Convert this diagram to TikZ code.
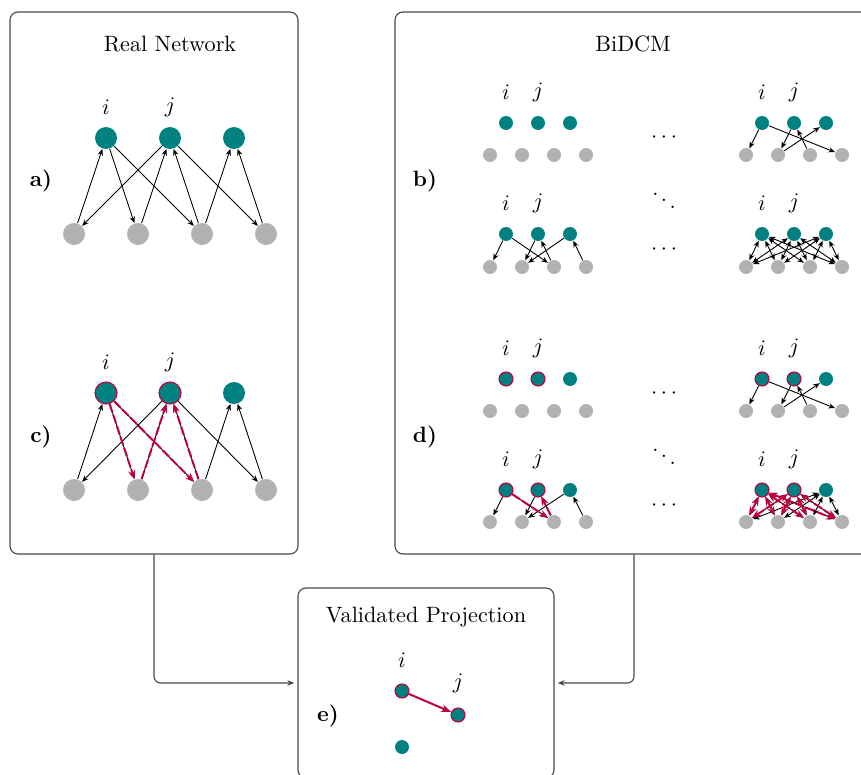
\documentclass[tikz,border=0pt]{standalone}
\usetikzlibrary{arrows.meta,fit}

\definecolor{nodeteal}{RGB}{0,128,128}
\definecolor{nodegray}{RGB}{178,178,178}
\definecolor{hlred}{RGB}{191,0,64}
\definecolor{framegray}{RGB}{70,70,70}

% one bipartite layer pair: #1 prefix, #2 x of node i, #3 y of top row,
% #4 y of bottom row, #5 spacing, #6 size (big/small), #7 i,j style (top/hl)
\newcommand\bipgraph[7]{%
  \node[#6#7]  (#1t1) at (#2,#3) {};
  \node[#6#7]  (#1t2) at ({#2+#5},#3) {};
  \node[#6top] (#1t3) at ({#2+2*#5},#3) {};
  \node[#6bot] (#1b1) at ({#2-#5/2},#4) {};
  \node[#6bot] (#1b2) at ({#2+#5/2},#4) {};
  \node[#6bot] (#1b3) at ({#2+3*#5/2},#4) {};
  \node[#6bot] (#1b4) at ({#2+5*#5/2},#4) {};
  \node[lbl] (#1li) at (#2,{#3-31}) {$i$};
  \node[lbl] (#1lj) at ({#2+#5},{#3-31}) {$j$};
}

\tikzset{
  x=0.4505pt, y=-0.4505pt,
  panel/.style={draw=framegray, line width=0.5pt, rounded corners=3.6pt, inner sep=0pt},
  tag/.style={font=\bfseries},
  lbl/.style={inner sep=0pt},
  bigtop/.style={circle, fill=nodeteal, inner sep=0pt, minimum size=9.9pt},
  bighl/.style={bigtop, draw=hlred, line width=0.5pt},
  bigbot/.style={circle, fill=nodegray, inner sep=0pt, minimum size=9.9pt},
  smalltop/.style={circle, fill=nodeteal, inner sep=0pt, minimum size=6.3pt},
  smallhl/.style={smalltop, draw=hlred, line width=0.5pt},
  smallbot/.style={circle, fill=nodegray, inner sep=0pt, minimum size=6.3pt},
  edge/.style={draw, line width=0.4pt, -{Stealth[length=3pt,width=2.4pt]}},
  twoway/.style={draw, line width=0.4pt, {Stealth[length=3pt,width=2.4pt]}-{Stealth[length=3pt,width=2.4pt]}},
  redover/.style={draw=hlred, line width=0.9pt, dash pattern=on 4pt off 1.2pt,
    -{Stealth[length=4pt,width=3.2pt]}},
  redtwoway/.style={draw=hlred, line width=0.9pt, dash pattern=on 4pt off 1.2pt,
    {Stealth[length=4pt,width=3.2pt]}-{Stealth[length=4pt,width=3.2pt]}},
  validated/.style={draw=hlred, line width=0.9pt, -{Stealth[length=4.5pt,width=3.5pt]}},
  conn/.style={draw=framegray, line width=0.5pt, rounded corners=3pt,
    -{Stealth[length=3pt,width=2.5pt]}, shorten >=1.5pt},
}

\begin{document}
\begin{tikzpicture}
\useasboundingbox (0,0) rectangle (861,775);
\clip (0,0) rectangle (861,775);

% frames
\node[panel, fit={(10,12) (298,554)}] (realbox) {};
\node[panel, fit={(395,12) (873,554)}] (bidcmbox) {};
\node[panel, fit={(298,588) (554,778)}] (projbox) {};

% titles and tags
\node (realtitle) at (170,44) {Real Network};
\node (bidcmtitle) at (633,44) {BiDCM};
\node (projtitle) at (426,617) {Validated Projection};
\node[tag] (taga) at (41,181) {a)};
\node[tag] (tagb) at (425,181) {b)};
\node[tag] (tagc) at (41,437) {c)};
\node[tag] (tagd) at (425,437) {d)};
\node[tag] (tage) at (328,716) {e)};

% a) real network
\bipgraph{A}{106}{138}{234}{64}{big}{top}
\foreach \p/\q in {b1/t1, t1/b2, t1/b3, t2/b1, b2/t2, b3/t2, t2/b4, b3/t3, b4/t3}
  \draw[edge] (A\p) -- (A\q);

% c) real network with the V-motifs of i and j
\bipgraph{C}{106}{393}{490}{64}{big}{hl}
\foreach \p/\q in {b1/t1, t1/b2, t1/b3, t2/b1, b2/t2, b3/t2, t2/b4, b3/t3, b4/t3}
  \draw[edge] (C\p) -- (C\q);
\foreach \p/\q in {t1/b2, t1/b3, b2/t2, b3/t2}
  \draw[redover] (C\p) -- (C\q);

% b) sampled ensemble
\bipgraph{Ba}{506}{123}{155}{32}{small}{top}
\bipgraph{Bb}{762}{123}{155}{32}{small}{top}
\foreach \p/\q in {t1/b1, t1/b4, t2/b2, b3/t2, b2/t3}
  \draw[edge] (Bb\p) -- (Bb\q);
\bipgraph{Bc}{506}{234}{267}{32}{small}{top}
\foreach \p/\q in {t1/b1, t1/b3, t2/b2, b3/t2, t3/b2, b4/t3}
  \draw[edge] (Bc\p) -- (Bc\q);
\bipgraph{Bd}{762}{234}{267}{32}{small}{top}
\foreach \p in {t1,t2,t3}
  \foreach \q in {b1,b2,b3,b4}
    \draw[twoway] (Bd\p) -- (Bd\q);
\node (bdotsa) at (664,138) {$\cdots$};
\node (bdotsb) at (664,194) {$\ddots$};
\node (bdotsc) at (664,250) {$\cdots$};

% d) sampled ensemble, V-motifs of i and j
\bipgraph{Da}{506}{379}{411}{32}{small}{hl}
\bipgraph{Db}{762}{379}{411}{32}{small}{hl}
\foreach \p/\q in {t1/b1, t1/b4, t2/b2, b3/t2, b2/t3}
  \draw[edge] (Db\p) -- (Db\q);
\bipgraph{Dc}{506}{490}{522}{32}{small}{hl}
\foreach \p/\q in {t1/b1, t1/b3, t2/b2, b3/t2, t3/b2, b4/t3}
  \draw[edge] (Dc\p) -- (Dc\q);
\foreach \p/\q in {t1/b3, b3/t2}
  \draw[redover] (Dc\p) -- (Dc\q);
\bipgraph{Dd}{762}{490}{522}{32}{small}{hl}
\foreach \p in {t1,t2,t3}
  \foreach \q in {b1,b2,b3,b4}
    \draw[twoway] (Dd\p) -- (Dd\q);
\foreach \p in {t1,t2}
  \foreach \q in {b1,b2,b3,b4}
    \draw[redtwoway] (Dd\p) -- (Dd\q);
\node (ddotsa) at (664,394) {$\cdots$};
\node (ddotsb) at (664,450) {$\ddots$};
\node (ddotsc) at (664,506) {$\cdots$};

% e) validated projection
\node[smallhl] (Ei) at (402,691) {};
\node[smallhl] (Ej) at (458,715) {};
\node[smalltop] (Ek) at (402,747) {};
\node[lbl] (Eli) at (402,660) {$i$};
\node[lbl] (Elj) at (458,683) {$j$};
\draw[validated] (Ei) -- (Ej);

% flow into the projection
\draw[conn] (realbox.south) |- (projbox.west);
\draw[conn] (bidcmbox.south) |- (projbox.east);
\end{tikzpicture}
\end{document}
